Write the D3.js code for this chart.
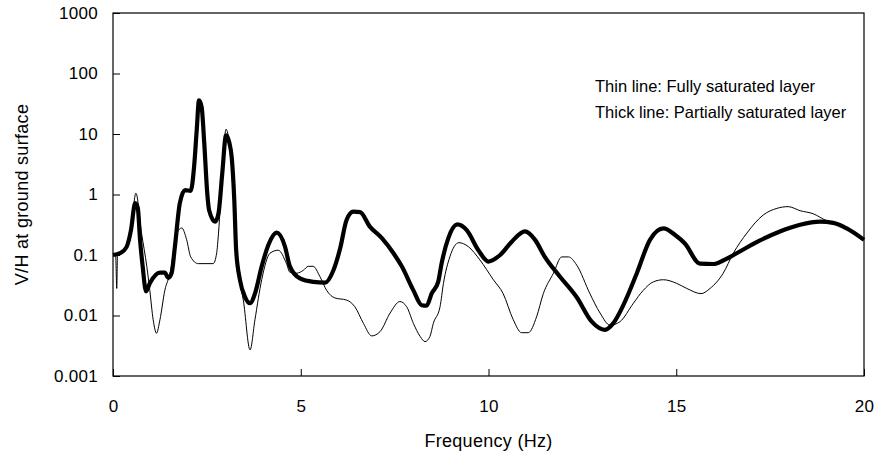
<!DOCTYPE html>
<html>
<head>
<meta charset="utf-8">
<script src="https://cdn.jsdelivr.net/npm/d3@7"></script>
<style>
  body { margin: 0; background: #fff; }
  text { font-family: "Liberation Sans", Arial, sans-serif; fill: #000; }
</style>
</head>
<body>
<div id="chart"></div>
<script>
// data: [frequency Hz, V/H]
const thinLine = [
  [0, 0.1], [0.07, 0.1], [0.1, 0.028], [0.12, 0.1], [0.19, 0.105], [0.36, 0.135], [0.48, 0.26],
  [0.61, 1.05], [0.76, 0.23], [0.9, 0.065], [0.98, 0.026], [1.07, 0.0085], [1.16, 0.0051],
  [1.25, 0.0085], [1.38, 0.026], [1.52, 0.05], [1.7, 0.23], [1.83, 0.28], [1.96, 0.18],
  [2.07, 0.093], [2.27, 0.072], [2.67, 0.072], [2.76, 0.107], [2.81, 0.23], [2.91, 2.3],
  [3.01, 12], [3.1, 7.5], [3.16, 4.2], [3.23, 0.8], [3.28, 0.12], [3.38, 0.035],
  [3.47, 0.018], [3.65, 0.0027], [3.78, 0.0085], [3.96, 0.039], [4.18, 0.107],
  [4.4, 0.12], [4.62, 0.072], [4.71, 0.052], [4.89, 0.05], [5.07, 0.056], [5.2, 0.065],
  [5.33, 0.065], [5.51, 0.044], [5.69, 0.026], [5.91, 0.0195], [6.22, 0.018],
  [6.44, 0.014], [6.67, 0.0074], [6.89, 0.0046], [7.11, 0.0054], [7.38, 0.011],
  [7.64, 0.017], [7.82, 0.014], [8.0, 0.0074], [8.18, 0.0045], [8.31, 0.0037],
  [8.44, 0.0045], [8.53, 0.0074], [8.71, 0.014], [8.8, 0.034], [8.97, 0.093],
  [9.21, 0.16], [9.46, 0.138], [9.77, 0.083], [10.13, 0.039], [10.39, 0.023],
  [10.66, 0.0085], [10.88, 0.0052], [11.06, 0.0052], [11.28, 0.0095], [11.46, 0.023],
  [11.73, 0.05], [11.95, 0.093], [12.13, 0.093], [12.35, 0.068], [12.7, 0.023],
  [12.97, 0.011], [13.24, 0.0069], [13.5, 0.0079], [13.86, 0.016], [14.12, 0.026],
  [14.39, 0.036], [14.66, 0.039], [15.01, 0.034], [15.28, 0.028], [15.66, 0.023],
  [15.9, 0.028], [16.25, 0.05], [16.52, 0.107], [16.88, 0.23], [17.32, 0.46],
  [17.68, 0.59], [17.98, 0.63], [18.3, 0.54], [18.65, 0.48], [19.0, 0.37],
  [19.18, 0.34], [19.54, 0.275], [20, 0.178]
];

const thickLine = [
  [0, 0.1], [0.19, 0.107], [0.36, 0.135], [0.48, 0.26], [0.59, 0.72], [0.66, 0.6],
  [0.72, 0.18], [0.79, 0.065], [0.88, 0.025], [0.98, 0.034], [1.25, 0.051], [1.38, 0.051],
  [1.47, 0.042], [1.56, 0.05], [1.65, 0.14], [1.78, 0.72], [1.92, 1.18], [2.07, 1.15],
  [2.16, 2.9], [2.23, 11.7], [2.29, 36], [2.36, 28], [2.43, 7.1], [2.51, 1.05],
  [2.56, 0.55], [2.72, 0.355], [2.81, 0.49], [2.91, 2.24], [3.01, 9.5], [3.1, 7.1],
  [3.16, 4.2], [3.23, 0.81], [3.28, 0.12], [3.38, 0.039], [3.52, 0.02], [3.65, 0.016],
  [3.78, 0.023], [3.96, 0.065], [4.14, 0.148], [4.36, 0.234], [4.58, 0.138],
  [4.71, 0.065], [4.98, 0.041], [5.33, 0.036], [5.65, 0.035], [5.87, 0.056],
  [6.05, 0.129], [6.22, 0.38], [6.4, 0.52], [6.58, 0.51], [6.84, 0.295], [7.16, 0.19],
  [7.47, 0.107], [7.69, 0.065], [8.0, 0.026], [8.22, 0.0148], [8.35, 0.0145],
  [8.49, 0.0234], [8.66, 0.036], [8.75, 0.072], [8.93, 0.19], [9.17, 0.32],
  [9.42, 0.257], [9.73, 0.12], [10.0, 0.078], [10.31, 0.1], [10.62, 0.166],
  [10.97, 0.245], [11.24, 0.178], [11.5, 0.093], [11.9, 0.044], [12.35, 0.02],
  [12.75, 0.0079], [13.1, 0.0058], [13.32, 0.0074], [13.59, 0.0148], [13.95, 0.05],
  [14.3, 0.178], [14.66, 0.275], [14.97, 0.214], [15.23, 0.155], [15.63, 0.072],
  [15.99, 0.071], [16.25, 0.081], [16.61, 0.107], [17.23, 0.174], [17.76, 0.245],
  [18.3, 0.316], [18.83, 0.355], [19.18, 0.34], [19.54, 0.275], [20, 0.178]
];

const xTicks = [0, 5, 10, 15, 20];
const yTicks = [0.001, 0.01, 0.1, 1, 10, 100, 1000];
const legendLines = ["Thin line: Fully saturated layer", "Thick line: Partially saturated layer"];

const svgWidth = 881;
const svgHeight = 461;
const margin = { top: 13, right: 17, bottom: 85, left: 113 };
const width = svgWidth - margin.left - margin.right;
const height = svgHeight - margin.top - margin.bottom;

const svg = d3.select("#chart")
  .append("svg")
  .attr("width", svgWidth)
  .attr("height", svgHeight);

const chartGroup = svg.append("g")
  .attr("transform", `translate(${margin.left}, ${margin.top})`);

const xScale = d3.scaleLinear().domain([0, 20]).range([0, width]);
const yScale = d3.scaleLog().domain([0.001, 1000]).range([height, 0]);

// axes with inward ticks
const xAxis = chartGroup.append("g")
  .attr("transform", `translate(0, ${height})`)
  .call(d3.axisBottom(xScale).tickValues(xTicks).tickSize(-7).tickPadding(24).tickFormat(d3.format("d")));

const yAxis = chartGroup.append("g")
  .call(d3.axisLeft(yScale).tickValues(yTicks).tickSize(-7).tickPadding(15).tickFormat(d => String(d)));

[xAxis, yAxis].forEach(a => {
  a.select(".domain").remove();
  a.selectAll("line").attr("stroke", "#000").attr("stroke-width", 1);
  a.selectAll("text").style("font-size", "17px").style("letter-spacing", "0.3px").attr("fill", "#000");
});

// frame
chartGroup.append("rect")
  .attr("x", 0).attr("y", 0)
  .attr("width", width).attr("height", height)
  .attr("fill", "none")
  .attr("stroke", "#000")
  .attr("stroke-width", 1.2);

const line = d3.line()
  .x(d => xScale(d[0]))
  .y(d => yScale(d[1]))
  .curve(d3.curveMonotoneX);

chartGroup.append("path")
  .datum(thinLine)
  .attr("d", line)
  .attr("fill", "none")
  .attr("stroke", "#000")
  .attr("stroke-width", 1);

chartGroup.append("path")
  .datum(thickLine)
  .attr("d", line)
  .attr("fill", "none")
  .attr("stroke", "#000")
  .attr("stroke-width", 4.2)
  .attr("stroke-linejoin", "round");

// legend text
legendLines.forEach((t, i) => {
  chartGroup.append("text")
    .attr("x", 595 - margin.left)
    .attr("y", 92 - margin.top + i * 26)
    .style("font-size", "16.5px")
    .text(t);
});

// axis titles
svg.append("text")
  .attr("x", margin.left + width / 2)
  .attr("y", 447)
  .attr("text-anchor", "middle")
  .style("font-size", "18px")
  .style("letter-spacing", "0.3px")
  .text("Frequency (Hz)");

svg.append("text")
  .attr("transform", `translate(28, ${margin.top + height / 2}) rotate(-90)`)
  .attr("text-anchor", "middle")
  .style("font-size", "18px")
  .style("letter-spacing", "0.3px")
  .text("V/H at ground surface");
</script>
</body>
</html>
